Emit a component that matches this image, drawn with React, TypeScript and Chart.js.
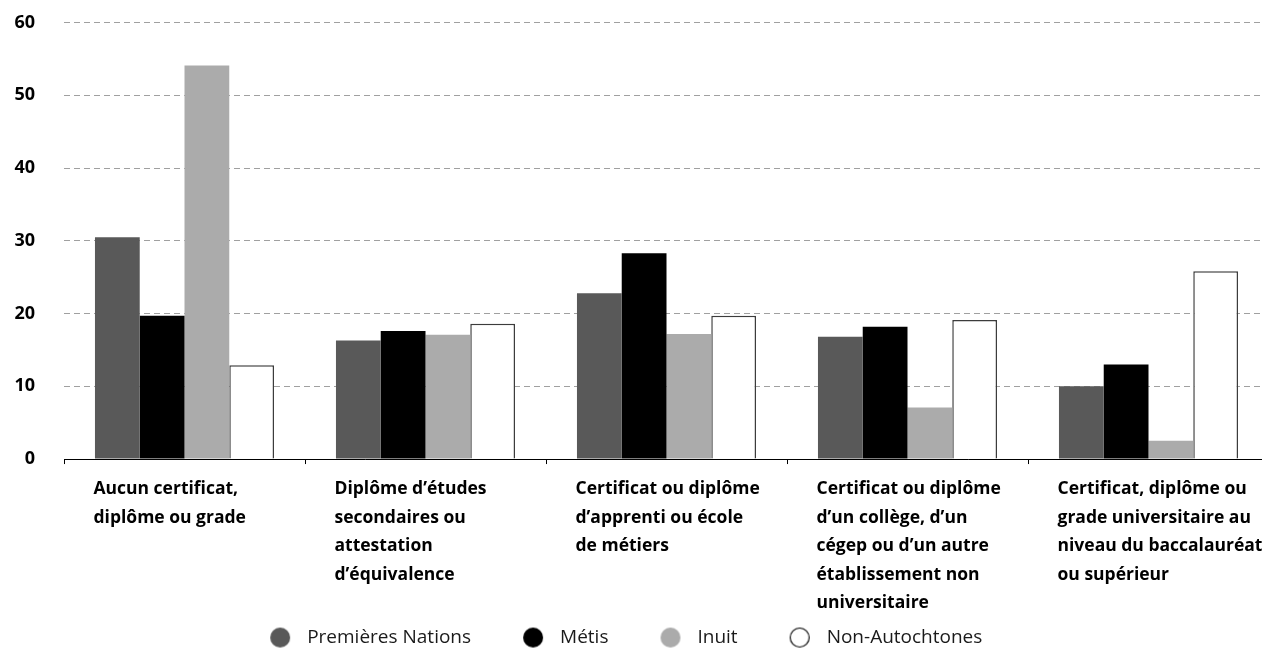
import React, { useEffect, useRef } from 'react';
import { Chart, registerables } from 'chart.js';

Chart.register(...registerables);

const titleText = 'Plus haut certificat, diplôme ou grade (en %), population âgée de 25 à 64 ans, Québec, 2016';

const categories: string[][] = [
  ['Aucun certificat,', 'diplôme ou grade'],
  ['Diplôme d’études', 'secondaires ou', 'attestation', 'd’équivalence'],
  ['Certificat ou diplôme', 'd’apprenti ou école', 'de métiers'],
  ['Certificat ou diplôme', 'd’un collège, d’un', 'cégep ou d’un autre', 'établissement non', 'universitaire'],
  ['Certificat, diplôme ou', 'grade universitaire au', 'niveau du baccalauréat', 'ou supérieur'],
];

const seriesNames = ['Premières Nations', 'Métis', 'Inuit', 'Non-Autochtones'];
const premieresNations = [30.5, 16.3, 22.8, 16.8, 10.0];
const metis = [19.7, 17.6, 28.3, 18.2, 13.0];
const inuit = [54.1, 17.1, 17.2, 7.1, 2.5];
const nonAutochtones = [12.9, 18.6, 19.7, 19.1, 25.8];

const yMin = 0;
const yMax = 60;
const yStep = 10;

const FONT = '"Open Sans", "Noto Sans", sans-serif';

function makeCircle(fill: string, stroke?: string): HTMLCanvasElement {
  const c = document.createElement('canvas');
  c.width = 22;
  c.height = 22;
  const ctx = c.getContext('2d')!;
  ctx.beginPath();
  ctx.arc(11, 11, stroke ? 9.5 : 10, 0, Math.PI * 2);
  ctx.fillStyle = fill;
  ctx.fill();
  if (stroke) {
    ctx.lineWidth = 1.1;
    ctx.strokeStyle = stroke;
    ctx.stroke();
  }
  return c;
}

// Places the legend row right under the axis labels, as in the reference
const legendPlacer = {
  id: 'legendPlacer',
  afterLayout(chart: any) {
    const lg = chart.legend;
    if (!lg) return;
    const h = lg.height;
    lg.top = chart.chartArea.bottom + 124.5;
    lg.bottom = lg.top + h;
    lg.left -= 12;
    lg.right -= 12;
  },
};

export default function App() {
  const ref = useRef<HTMLCanvasElement>(null);

  useEffect(() => {
    const canvas = ref.current;
    if (!canvas) return;
    const chart = new Chart(canvas, {
      type: 'bar',
      data: {
        labels: categories,
        datasets: [
          { label: seriesNames[0], data: premieresNations, backgroundColor: '#595959', borderWidth: 0, pointStyle: makeCircle('#595959') },
          { label: seriesNames[1], data: metis, backgroundColor: '#000000', borderWidth: 0, pointStyle: makeCircle('#000000') },
          { label: seriesNames[2], data: inuit, backgroundColor: '#ababab', borderWidth: 0, pointStyle: makeCircle('#ababab') },
          { label: seriesNames[3], data: nonAutochtones, backgroundColor: '#ffffff', borderColor: '#3c3c3c', borderWidth: 1.5, pointStyle: makeCircle('#ffffff', '#000000') },
        ],
      },
      plugins: [legendPlacer],
      options: {
        responsive: true,
        maintainAspectRatio: false,
        animation: false,
        layout: { padding: { left: 0, right: 0, top: 0, bottom: 0 } },
        datasets: { bar: { categoryPercentage: 0.743, barPercentage: 1.0 } },
        scales: {
          x: {
            offset: true,
            grid: {
              offset: true,
              display: true,
              drawOnChartArea: false,
              drawTicks: true,
              tickLength: 5,
              color: '#000000',
              tickColor: '#000000',
            },
            border: { display: true, color: '#000000', width: 1 },
            ticks: {
              color: '#000000',
              align: 'start',
              labelOffset: -91,
              padding: 11,
              maxRotation: 0,
              minRotation: 0,
              autoSkip: false,
              font: { family: FONT, size: 17.5, weight: 'bold', lineHeight: 1.628 },
            },
            afterFit: (scale: any) => {
              scale.paddingLeft = 0;
              scale.paddingRight = 0;
            },
          },
          y: {
            min: yMin,
            max: yMax,
            grid: {
              display: true,
              drawTicks: false,
              color: '#a0a0a0',
              lineWidth: 1,
            },
            border: { display: false, dash: [6, 4] },
            ticks: {
              stepSize: yStep,
              padding: 29,
              color: '#000000',
              font: { family: FONT, size: 18, weight: 'bold' },
            },
            afterFit: (scale: any) => {
              scale.width = 64;
            },
          },
        },
        plugins: {
          title: {
            display: true,
            text: titleText,
            align: 'start',
            color: '#000000',
            font: { family: FONT, size: 20, weight: 'bold', lineHeight: 1.2 },
            padding: { top: 0, bottom: 22.5 },
          },
          legend: {
            display: true,
            position: 'bottom',
            labels: {
              usePointStyle: true,
              pointStyleWidth: 35,
              padding: 44.5,
              color: '#1a1a1a',
              font: { family: FONT, size: 19, weight: 'normal' },
            },
          },
          tooltip: { enabled: false },
        },
      },
    });
    return () => chart.destroy();
  }, []);

  return (
    <div style={{ position: 'fixed', left: 0, top: 0, width: 1262, height: 652, overflow: 'hidden', background: '#ffffff' }}>
      <div style={{ position: 'absolute', left: 0, top: -24, width: 1269, height: 726 }}>
        <canvas ref={ref} />
      </div>
    </div>
  );
}
